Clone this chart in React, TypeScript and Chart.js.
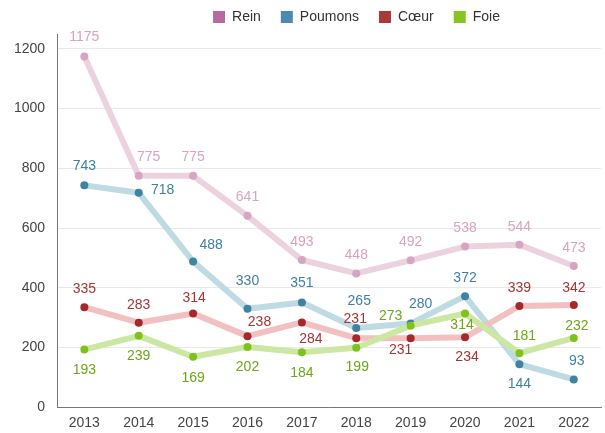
import React, { useEffect, useRef } from "react";
import { Chart, registerables } from "chart.js";

Chart.register(...registerables);

const years = ["2013", "2014", "2015", "2016", "2017", "2018", "2019", "2020", "2021", "2022"];
const rein = [1175, 775, 775, 641, 493, 448, 492, 538, 544, 473];
const poumons = [743, 718, 488, 330, 351, 265, 280, 372, 144, 93];
const coeur = [335, 283, 314, 238, 284, 231, 231, 234, 339, 342];
const foie = [193, 239, 169, 202, 184, 199, 273, 314, 181, 232];
const seriesNames = ["Rein", "Poumons", "Cœur", "Foie"];
const yTicks = [0, 200, 400, 600, 800, 1000, 1200];

// label placement (text centre relative to point)
const labelOffsets: number[][][] = [
  [[0, -19], [10, -19], [0, -19], [0, -19], [0, -18], [0, -18], [0, -18], [0, -18], [0, -18], [0, -18]],
  [[0, -19], [24, -3], [18, -16], [0, -28], [0, -19], [3, -27], [10, -19], [0, -18], [0, 20], [3, -18]],
  [[0, -18], [0, -18], [1, -15], [12, -14], [9, 17], [-1, -19], [-10, 12], [2, 20], [0, -18], [0, -17]],
  [[0, 21], [0, 20], [0, 21], [0, 20], [0, 21], [1, 19], [-20, -10], [-3, 12], [5, -17], [3, -12]],
];

const lineColors = ["#ecd2df", "#bedae3", "#f2c0c0", "#cbe7a2"];
const pointColors = ["#d7a4c2", "#3e82a4", "#a4292b", "#7ec31a"];
const labelColors = ["#d8a3c1", "#3d80a5", "#a83434", "#6ea616"];
const legendColors = ["#b86a9e", "#4b8aae", "#a93a36", "#84c51f"];

const FONT = "'Liberation Sans', Arial, Helvetica, sans-serif";

const labelPlugin = {
  id: "pointValueLabels",
  afterDatasetsDraw(chart: any) {
    const ctx = chart.ctx;
    ctx.save();
    ctx.font = `14px ${FONT}`;
    ctx.textAlign = "center";
    ctx.textBaseline = "middle";
    chart.data.datasets.forEach((ds: any, i: number) => {
      const meta = chart.getDatasetMeta(i);
      ctx.fillStyle = labelColors[i];
      meta.data.forEach((pt: any, j: number) => {
        const [dx, dy] = labelOffsets[i][j];
        ctx.fillText(String(ds.data[j]), pt.x + dx, pt.y + dy);
      });
    });
    ctx.restore();
  },
};

const legendShift = {
  id: "legendShift",
  afterLayout(chart: any) {
    const lg = chart.legend;
    if (!lg) return;
    lg.left += 54;
    lg.right += 54;
    lg.top -= 10;
  },
};

export default function App() {
  const ref = useRef<HTMLCanvasElement>(null);
  useEffect(() => {
    document.body.style.margin = "0";
    const all = [rein, poumons, coeur, foie];
    const chart = new Chart(ref.current!, {
      type: "line",
      data: {
        labels: years,
        datasets: all.map((d, i) => ({
          label: seriesNames[i],
          data: d,
          borderColor: lineColors[i],
          backgroundColor: legendColors[i],
          borderWidth: 6,
          borderJoinStyle: "round" as const,
          pointRadius: 4,
          pointBorderWidth: 0,
          pointBackgroundColor: pointColors[i],
          pointBorderColor: pointColors[i],
          tension: 0,
          fill: false,
          order: 3 - i,
        })),
      },
      options: {
        responsive: false,
        animation: false,
        layout: { padding: { left: 2, right: 2, top: 0, bottom: -7 } },
        plugins: {
          tooltip: { enabled: false },
          legend: {
            position: "top",
            maxHeight: 34,
            labels: {
              sort: (a: any, b: any) => a.datasetIndex - b.datasetIndex,
              boxWidth: 12,
              boxHeight: 12,
              padding: 20,
              color: "#333",
              font: { family: FONT, size: 14 },
              generateLabels: (c: any) =>
                c.data.datasets.map((ds: any, i: number) => ({
                  text: ds.label,
                  fillStyle: legendColors[i],
                  strokeStyle: legendColors[i],
                  lineWidth: 0,
                  datasetIndex: i,
                  hidden: false,
                  fontColor: "#333",
                })),
            },
          },
        },
        scales: {
          x: {
            type: "category",
            offset: true,
            grid: { display: false, drawTicks: false },
            border: { display: true, color: "#777", width: 1 },
            ticks: { color: "#444", font: { family: FONT, size: 14 }, padding: 8, maxRotation: 0 },
          },
          y: {
            min: 0,
            max: 1250,
            afterBuildTicks: (scale: any) => {
              scale.ticks = yTicks.map((v) => ({ value: v }));
            },
            grid: { color: "#e9e9e9", drawTicks: false },
            border: { display: true, color: "#777", width: 1 },
            ticks: {
              color: "#444",
              font: { family: FONT, size: 14 },
              padding: 12,
              callback: (v: any) => String(v),
            },
          },
        },
      },
      plugins: [labelPlugin, legendShift],
    });
    return () => chart.destroy();
  }, []);
  return (
    <div style={{ width: 605, height: 433 }}>
      <canvas ref={ref} width={605} height={433} />
    </div>
  );
}
